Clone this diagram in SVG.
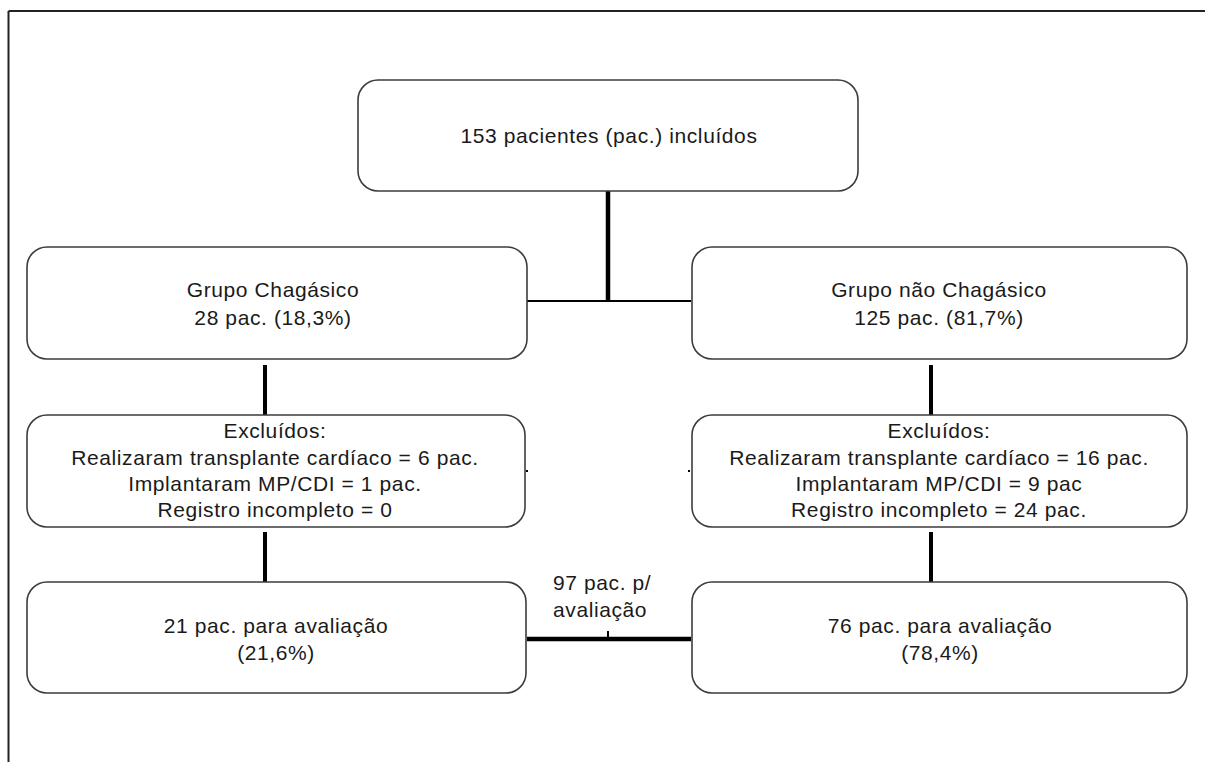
<svg xmlns="http://www.w3.org/2000/svg" width="1205" height="762" viewBox="0 0 1205 762">
<style>
.box{fill:#fff;stroke:#3c3c3c;stroke-width:1.6}
.t{font-family:"Liberation Sans",Arial,sans-serif;font-size:21px;letter-spacing:0.6px;fill:#1a1a1a;text-anchor:middle}
.tl{font-family:"Liberation Sans",Arial,sans-serif;font-size:21px;letter-spacing:0.6px;fill:#1a1a1a}
.c{stroke:#000;fill:none}
</style>
<rect width="1205" height="762" fill="#fff"/>
<g id="frame">
<line x1="8.5" y1="11" x2="1205" y2="11" stroke="#222" stroke-width="2"/>
<line x1="8.5" y1="11" x2="8.5" y2="762" stroke="#222" stroke-width="2"/>
</g>
<g id="connectors">
<line class="c" x1="608" y1="191" x2="608" y2="302" stroke-width="4.5"/>
<line class="c" x1="527" y1="301" x2="691" y2="301" stroke-width="2"/>
<line class="c" x1="265" y1="365" x2="265" y2="415" stroke-width="4"/>
<line class="c" x1="931" y1="365" x2="931" y2="415" stroke-width="4"/>
<line class="c" x1="265" y1="532" x2="265" y2="582" stroke-width="4"/>
<line class="c" x1="931" y1="532" x2="931" y2="582" stroke-width="4"/>
<line class="c" x1="527" y1="639" x2="691" y2="639" stroke-width="4.5"/>
<line class="c" x1="608" y1="631" x2="608" y2="639" stroke-width="2"/>
<rect x="526" y="470" width="2" height="2" fill="#000"/>
<rect x="688" y="470" width="2" height="2" fill="#000"/>
</g>
<g id="n-total">
<rect class="box" x="358" y="80" width="500" height="111" rx="20"/>
<text class="t" x="609" y="143">153 pacientes (pac.) incluídos</text>
</g>
<g id="n-chagas">
<rect class="box" x="27" y="247" width="500" height="112" rx="20"/>
<text class="t" x="273" y="297">Grupo Chagásico</text>
<text class="t" x="273" y="325">28 pac. (18,3%)</text>
</g>
<g id="n-nonchagas">
<rect class="box" x="692" y="247" width="495" height="112" rx="20"/>
<text class="t" x="939" y="297">Grupo não Chagásico</text>
<text class="t" x="939" y="325">125 pac. (81,7%)</text>
</g>
<g id="n-excl-chagas">
<rect class="box" x="27" y="415" width="498" height="112" rx="20"/>
<text class="t" x="275" y="438">Excluídos:</text>
<text class="t" x="275" y="465">Realizaram transplante cardíaco = 6 pac.</text>
<text class="t" x="275" y="491">Implantaram MP/CDI = 1 pac.</text>
<text class="t" x="275" y="517">Registro incompleto = 0</text>
</g>
<g id="n-excl-nonchagas">
<rect class="box" x="692" y="415" width="495" height="112" rx="20"/>
<text class="t" x="939" y="438">Excluídos:</text>
<text class="t" x="939" y="465">Realizaram transplante cardíaco = 16 pac.</text>
<text class="t" x="939" y="491">Implantaram MP/CDI = 9 pac</text>
<text class="t" x="939" y="517">Registro incompleto = 24 pac.</text>
</g>
<g id="n-eval-chagas">
<rect class="box" x="27" y="582" width="499" height="111" rx="20"/>
<text class="t" x="276" y="633">21 pac. para avaliação</text>
<text class="t" x="276" y="660">(21,6%)</text>
</g>
<g id="n-eval-nonchagas">
<rect class="box" x="692" y="582" width="495" height="111" rx="20"/>
<text class="t" x="940" y="633">76 pac. para avaliação</text>
<text class="t" x="940" y="660">(78,4%)</text>
</g>
<g id="label-total">
<text class="tl" x="553" y="590">97 pac. p/</text>
<text class="tl" x="553" y="617">avaliação</text>
</g>
</svg>
